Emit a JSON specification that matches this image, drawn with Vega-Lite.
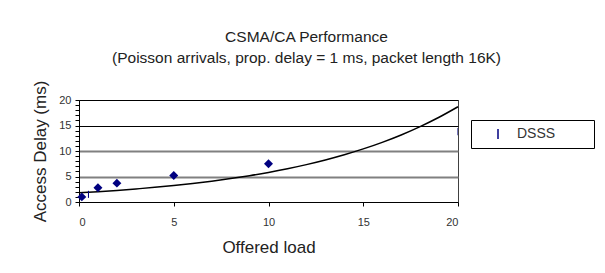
{
  "$schema": "https://vega.github.io/schema/vega-lite/v6.json",
  "width": 379,
  "height": 102,
  "autosize": {"type": "none"},
  "padding": {"left": 79, "top": 100, "right": 147, "bottom": 71},
  "background": "white",
  "title": {
    "text": "CSMA/CA Performance",
    "subtitle": "(Poisson arrivals, prop. delay = 1 ms, packet length 16K)",
    "anchor": "middle",
    "dx": 38,
    "offset": 14,
    "font": "Liberation Sans, Arial",
    "subtitleFont": "Liberation Sans, Arial",
    "fontSize": 15.5,
    "subtitleFontSize": 15.5,
    "fontWeight": "normal",
    "color": "#222222",
    "subtitleColor": "#222222",
    "subtitlePadding": 5
  },
  "config": {
    "view": {"stroke": "#404040", "strokeWidth": 1},
    "font": "Liberation Sans, Arial"
  },
  "encoding": {
    "x": {
      "field": "load", "type": "quantitative",
      "scale": {"domain": [0, 20], "nice": false},
      "axis": {
        "title": "Offered load",
        "values": [0, 5, 10, 15, 20],
        "grid": false,
        "domainColor": "black",
        "tickColor": "black",
        "tickSize": 4,
        "labelFontSize": 11,
        "labelColor": "#333333",
        "labelPadding": 10,
        "titleFontSize": 17,
        "titleFontWeight": "normal",
        "titleColor": "#222222",
        "titlePadding": 12
      }
    },
    "y": {
      "field": "delay", "type": "quantitative",
      "scale": {"domain": [0, 20], "nice": false},
      "axis": {
        "title": "Access Delay (ms)",
        "values": [0, 1, 2, 3, 4, 5, 6, 7, 8, 9, 10, 11, 12, 13, 14, 15, 16, 17, 18, 19, 20],
        "labelExpr": "datum.value % 5 == 0 ? datum.label : ''",
        "grid": true,
        "gridOpacity": {"condition": {"test": "datum.value % 5 == 0 && datum.value > 0", "value": 1}, "value": 0},
        "gridColor": {"condition": {"test": "datum.value >= 15", "value": "black"}, "value": "#808080"},
        "gridWidth": {"condition": {"test": "datum.value >= 15", "value": 1}, "value": 2},
        "domainColor": "black",
        "tickColor": "black",
        "tickSize": 4,
        "labelFontSize": 11,
        "labelColor": "#333333",
        "labelPadding": 4,
        "labelOverlap": false,
        "titleFontSize": 17,
        "titleFontWeight": "normal",
        "titleColor": "#222222",
        "titlePadding": 9
      }
    }
  },
  "layer": [
    {
      "data": {
        "values": [
          {"load": 0, "delay": 1.8},
          {"load": 1, "delay": 2.02},
          {"load": 2, "delay": 2.27},
          {"load": 3, "delay": 2.56},
          {"load": 4, "delay": 2.87},
          {"load": 5, "delay": 3.23},
          {"load": 6, "delay": 3.63},
          {"load": 7, "delay": 4.08},
          {"load": 8, "delay": 4.59},
          {"load": 9, "delay": 5.16},
          {"load": 10, "delay": 5.8},
          {"load": 11, "delay": 6.52},
          {"load": 12, "delay": 7.33},
          {"load": 13, "delay": 8.24},
          {"load": 14, "delay": 9.26},
          {"load": 15, "delay": 10.41},
          {"load": 16, "delay": 11.7},
          {"load": 17, "delay": 13.15},
          {"load": 18, "delay": 14.79},
          {"load": 19, "delay": 16.62},
          {"load": 20, "delay": 18.68}
        ]
      },
      "mark": {"type": "line", "color": "black", "strokeWidth": 1.5, "interpolate": "monotone"}
    },
    {
      "data": {
        "values": [
          {"load": 0.15, "delay": 1.0},
          {"load": 1, "delay": 2.8},
          {"load": 2, "delay": 3.7},
          {"load": 5, "delay": 5.2},
          {"load": 10, "delay": 7.5}
        ]
      },
      "mark": {"type": "point", "shape": "diamond", "filled": true, "color": "#000080", "size": 80, "opacity": 1}
    },
    {
      "data": {
        "values": [
          {"load": 0.5, "delay": 1.5, "series": "DSSS"},
          {"load": 20, "delay": 13.8, "series": "DSSS"}
        ]
      },
      "mark": {"type": "point", "shape": "M-0.15,-1H0.15V1H-0.15Z", "filled": true, "size": 50, "opacity": 1, "clip": true},
      "encoding": {
        "color": {
          "field": "series", "type": "nominal",
          "scale": {"range": ["#000080"]},
          "legend": {
            "title": null,
            "orient": "none",
            "legendX": 392,
            "legendY": 20,
            "strokeColor": "black",
            "fillColor": "white",
            "padding": 7,
            "symbolOffset": 13,
            "labelOffset": 12,
            "labelFontSize": 14,
            "labelColor": "#333333",
            "labelExpr": "datum.label + '\u00a0\u00a0\u00a0\u00a0\u00a0\u00a0\u00a0\u00a0\u200b'"
          }
        }
      }
    }
  ]
}
